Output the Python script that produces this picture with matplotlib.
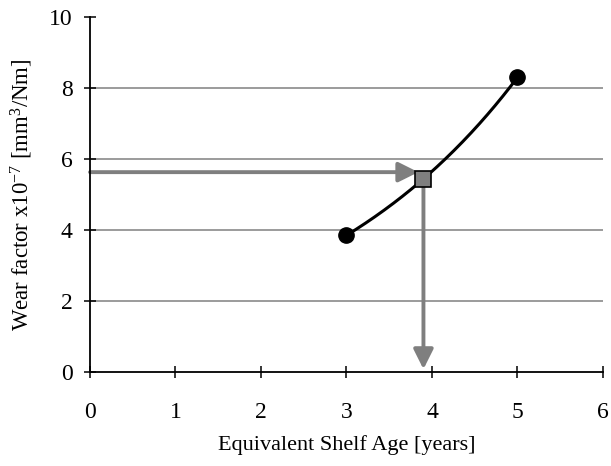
import numpy as np
import matplotlib.pyplot as plt

plt.rcParams['font.family'] = ['Liberation Serif', 'DejaVu Serif']
plt.rcParams['mathtext.default'] = 'regular'

# measured points (shelf age, wear factor)
age = [3, 5]
wear = [3.85, 8.3]

# read-off point
read_age = 3.9
read_wear = 5.43
arrow_y = 5.63

x_ticks = [0, 1, 2, 3, 4, 5, 6]
y_ticks = [0, 2, 4, 6, 8, 10]

fig = plt.figure(figsize=(6.11, 4.66), dpi=100)
ax = fig.add_axes([0.1473, 0.2017, 0.8396, 0.7618])

ax.set_xlim(0, 6)
ax.set_ylim(0, 10)
for yv in y_ticks[1:-1]:
    ax.axhline(yv, color='#8a8a8a', lw=1.2, zorder=1)

# exponential trendline through the two measured points
b = np.log(wear[1] / wear[0]) / (age[1] - age[0])
tt = np.linspace(age[0], age[1], 200)
ax.plot(tt, wear[0] * np.exp(b * (tt - age[0])), color='black', lw=2.2, zorder=3)
ax.plot(age, wear, 'o', color='black', ms=11, zorder=4)

grey = '#7f7f7f'
ax.annotate('', xy=(read_age - 0.06, arrow_y), xytext=(0, arrow_y),
            arrowprops=dict(arrowstyle='-|>', color=grey, lw=2.8,
                            mutation_scale=30, shrinkA=0, shrinkB=0), zorder=2)
ax.annotate('', xy=(read_age, 0.08), xytext=(read_age, read_wear),
            arrowprops=dict(arrowstyle='-|>', color=grey, lw=2.8,
                            mutation_scale=30, shrinkA=0, shrinkB=0), zorder=2)
ax.plot([read_age], [read_wear], 's', color=grey, mec='black', mew=1.2, ms=11, zorder=5)

ax.spines['top'].set_visible(False)
ax.spines['right'].set_visible(False)
for s in ['left', 'bottom']:
    ax.spines[s].set_linewidth(1.3)
ax.set_xticks(x_ticks)
ax.set_yticks(y_ticks)
ax.tick_params(direction='inout', length=9, width=1.1, labelsize=17)
ax.tick_params(axis='x', pad=17)
ax.tick_params(axis='y', pad=8)
ax.set_xlabel('Equivalent Shelf Age [years]', fontsize=16, labelpad=9)
ax.set_ylabel('Wear factor x10$^{-7}$ [mm$^{3}$/Nm]', fontsize=16.5, labelpad=10)

fig.savefig('out.png', dpi=100)
